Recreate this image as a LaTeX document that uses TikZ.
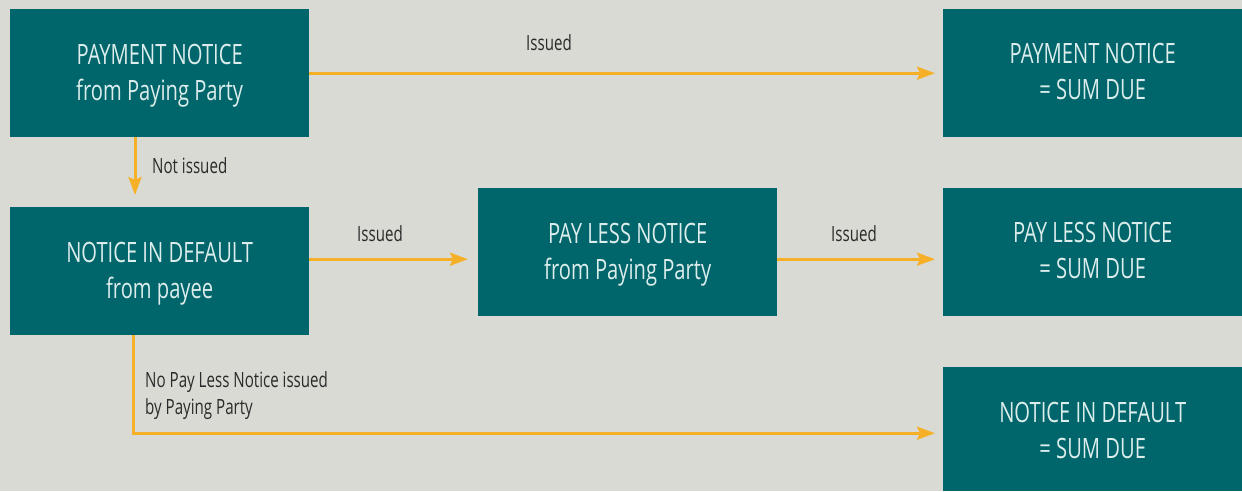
\documentclass[tikz,border=0pt]{standalone}
\usepackage{fontspec}
\setmainfont{Open Sans}[FakeStretch=0.72]
\usetikzlibrary{arrows.meta,calc}
\definecolor{bg}{HTML}{DADAD5}
\definecolor{teal}{HTML}{00666B}
\definecolor{boxtext}{HTML}{DCEDEC}
\definecolor{arrowc}{HTML}{F5B027}
\definecolor{labelc}{HTML}{2A2A2A}
\tikzset{
  box/.style={fill=teal, minimum width=299pt, minimum height=128pt, inner sep=0pt,
    anchor=north west},
  txtbase/.style={text=boxtext, align=center,
    font={\fontsize{28}{36}\selectfont}},
  boxtxt/.style={txtbase, yshift=-3pt},
  sumtxt/.style={txtbase, yshift=1.5pt},
  arr/.style={draw=arrowc, line width=3pt,
    -{Stealth[length=18pt,width=13pt,inset=3pt]}},
  lbl/.style={text=labelc, font={\fontsize{21}{27}\selectfont}, inner sep=0pt}
}
\begin{document}
\begin{tikzpicture}[x=1pt,y=-1pt]
\fill[bg] (0,0) rectangle (1242,491);
\useasboundingbox (0,0) rectangle (1242,491);
\node[box, label={[boxtxt]center:PAYMENT NOTICE\\from Paying Party}] (b1) at (10,9) {};
\node[box, label={[boxtxt]center:NOTICE IN DEFAULT\\from payee}] (b2) at (10,207) {};
\node[box, label={[boxtxt]center:PAY LESS NOTICE\\from Paying Party}] (b3) at (478,188) {};
\node[box, label={[sumtxt]center:PAYMENT NOTICE\\= SUM DUE}] (b4) at (943,9) {};
\node[box, label={[sumtxt]center:PAY LESS NOTICE\\= SUM DUE}] (b5) at (943,188) {};
\node[box, minimum height=124pt, label={[txtbase, yshift=-1pt]center:NOTICE IN DEFAULT\\= SUM DUE}] (b6) at (943,367) {};
% connectors
\draw[arr, shorten >=8pt] (b1.east) -- (b4.west);
\draw[arr, shorten >=12pt] ([xshift=125pt]b1.south west) -- ([xshift=125pt]b2.north west);
\draw[arr, shorten >=10pt] ([yshift=12pt]b2.east) -- ([yshift=-7pt]b3.west);
\draw[arr, shorten >=8pt] ([yshift=-7pt]b3.east) -- ([yshift=-7pt]b5.west);
\draw[arr, shorten >=8pt] ([xshift=123pt]b2.south west) |- ([yshift=-4pt]b6.west);
% labels
\node[lbl] (l1) at (549,43) {Issued};
\node[lbl, anchor=west] (l2) at (152,166) {Not issued};
\node[lbl] (l3) at (380,234) {Issued};
\node[lbl] (l4) at (854,234) {Issued};
\node[lbl, anchor=north west, align=left] (l5) at (145,371) {No Pay Less Notice issued\\by Paying Party};
\end{tikzpicture}
\end{document}
